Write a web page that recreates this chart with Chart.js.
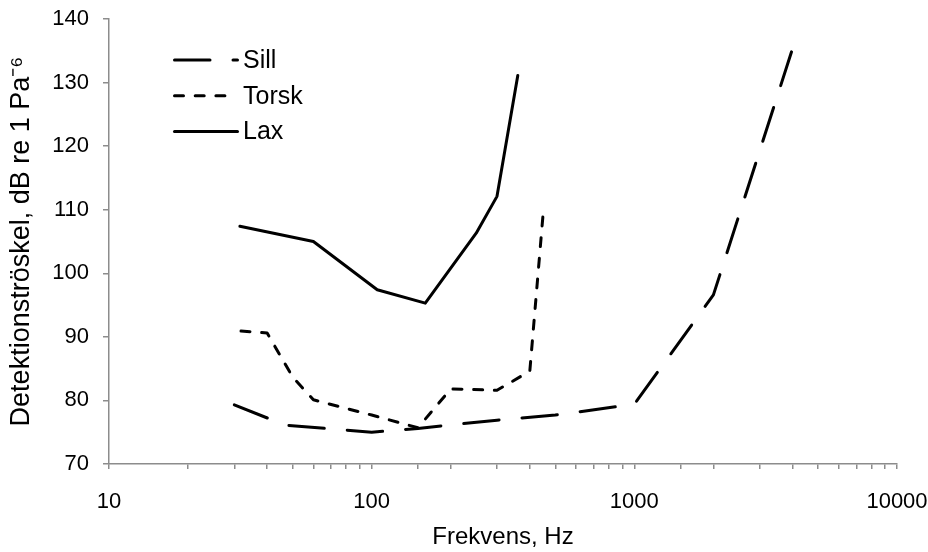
<!DOCTYPE html>
<html>
<head>
<meta charset="utf-8">
<script src="https://cdn.jsdelivr.net/npm/chart.js@4"></script>
<style>
  body { margin: 0; background: #fff; }
  #wrap { width: 928px; height: 552px; }
</style>
</head>
<body>
<div id="wrap"><canvas id="mycanvas"></canvas></div>
<script>
// data
var sillFreq = [30, 47, 100, 150, 300, 500, 1000, 2000, 4000];
var sillDb = [79.3, 76.1, 75.0, 75.6, 76.9, 77.7, 79.4, 96.6, 135.3];
var torskFreq = [30, 40, 50, 60, 100, 150, 200, 300, 400, 450];
var torskDb = [91.0, 90.6, 83.7, 80.1, 77.7, 75.7, 81.8, 81.6, 84.6, 109.6];
var laxFreq = [31.5, 60, 105, 160, 250, 300, 360];
var laxDb = [107.4, 105.0, 97.4, 95.3, 106.3, 112.1, 131.1];
var seriesNames = ['Sill', 'Torsk', 'Lax'];
var yTicks = [70, 80, 90, 100, 110, 120, 130, 140];
var xLabels = [10, 100, 1000, 10000];

var FONT = 'Liberation Sans, Arial, sans-serif';
var AXIS = '#8c8c8c';

function pts(xs, ys) {
  var out = [];
  for (var i in xs) out.push({x: xs[i], y: ys[i]});
  return out;
}

function lineSet(name, xs, ys, dash, dashOffset) {
  return {
    label: name,
    data: pts(xs, ys),
    borderColor: '#000',
    backgroundColor: '#000',
    borderWidth: 3,
    borderDash: dash,
    borderDashOffset: dashOffset || 0,
    borderCapStyle: 'round',
    borderJoinStyle: 'round',
    pointRadius: 0,
    tension: 0,
    fill: false
  };
}

// legend drawn inside the plot, top left
var innerLegend = {
  id: 'innerLegend',
  afterDraw: function(chart) {
    var ctx = chart.ctx;
    var ds = chart.data.datasets;
    ctx.save();
    for (var i = 0; i < ds.length; i++) {
      var y = 60 + i * 35.8;
      ctx.beginPath();
      ctx.setLineDash(ds[i].borderDash || []);
      ctx.lineWidth = 3;
      ctx.lineCap = 'round';
      ctx.strokeStyle = '#000';
      ctx.moveTo(174.5, y);
      ctx.lineTo(i == 1 ? 228 : 237.5, y);
      ctx.stroke();
      ctx.setLineDash([]);
      ctx.fillStyle = '#000';
      ctx.font = '25px ' + FONT;
      ctx.textBaseline = 'middle';
      ctx.textAlign = 'left';
      ctx.fillText(ds[i].label, 243, y + 1);
    }
    ctx.restore();
  }
};

var ctx = document.getElementById('mycanvas');
var chart = new Chart(ctx, {
  type: 'line',
  data: {
    datasets: [
      lineSet(seriesNames[0], sillFreq, sillDb, [35.5, 23]),
      lineSet(seriesNames[1], torskFreq, torskDb, [9, 11.7], 14),
      lineSet(seriesNames[2], laxFreq, laxDb, [])
    ]
  },
  options: {
    responsive: true,
    maintainAspectRatio: false,
    animation: false,
    layout: { padding: { top: 19, right: 31, bottom: 0, left: 0 } },
    plugins: {
      legend: { display: false },
      tooltip: { enabled: false }
    },
    scales: {
      x: {
        type: 'logarithmic',
        min: 10,
        max: 10000,
        afterFit: function(scale) {
          scale.height = 88;
          scale.paddingLeft = 0;
          scale.paddingRight = 0;
        },
        border: { display: true, color: AXIS, width: 1.5 },
        grid: { display: true, drawOnChartArea: false, drawTicks: true, tickLength: 5, color: AXIS, lineWidth: 1.5 },
        ticks: {
          autoSkip: false,
          maxRotation: 0,
          padding: 20,
          color: '#000',
          font: { family: FONT, size: 22 },
          callback: function(value) {
            return xLabels.indexOf(value) >= 0 ? String(value) : '';
          }
        },
        title: {
          display: true,
          text: 'Frekvens, Hz',
          color: '#000',
          font: { family: FONT, size: 24 },
          padding: { top: 4, bottom: 0 }
        }
      },
      y: {
        min: yTicks[0],
        max: yTicks[yTicks.length - 1],
        afterFit: function(scale) {
          scale.width = 109;
          scale.paddingTop = 0;
          scale.paddingBottom = 0;
        },
        border: { display: true, color: AXIS, width: 1.5 },
        grid: { display: true, drawOnChartArea: false, drawTicks: true, tickLength: 6, color: AXIS, lineWidth: 1.5 },
        ticks: {
          stepSize: 10,
          padding: 14,
          color: '#000',
          font: { family: FONT, size: 22 }
        },
        title: {
          display: true,
          text: 'Detektionströskel, dB re 1 Pa⁻⁶',
          color: '#000',
          font: { family: FONT, size: 27 },
          padding: { top: 5, bottom: 0 }
        }
      }
    }
  },
  plugins: [innerLegend]
});
</script>
</body>
</html>
